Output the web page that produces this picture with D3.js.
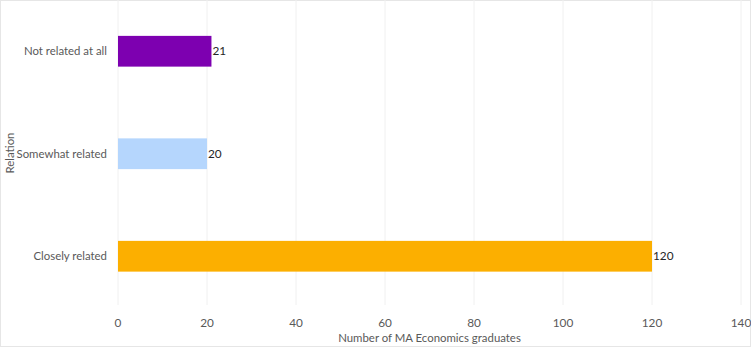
<!DOCTYPE html>
<html><head><meta charset="utf-8">
<script src="https://cdn.jsdelivr.net/npm/d3@7"></script>
<style>body{margin:0;background:#fff}svg{display:block}text{font-family:Lato,"Open Sans",sans-serif}</style>
</head><body><div id="c"></div>
<script>
const categories = ["Not related at all", "Somewhat related", "Closely related"];
const values = [21, 20, 120];
const colors = ["#7d00b0", "#b5d6fd", "#fcaf00"];
const xTicks = [0, 20, 40, 60, 80, 100, 120, 140];
const xTitle = "Number of MA Economics graduates";
const yTitle = "Relation";

const W = 751, H = 347, FS = 11.4;
const svg = d3.select("#c").append("svg").attr("width", W).attr("height", H);
svg.append("rect").attr("x",0.5).attr("y",0.5).attr("width",W-1).attr("height",H-1)
  .attr("fill","#fff").attr("stroke","#e6e6e6");
const x = d3.scaleLinear().domain([0,140]).range([118,741]);
const y = d3.scaleBand().domain(categories).range([0,307.5]).paddingInner(0.7).paddingOuter(0.35);

svg.append("g").selectAll("line").data(xTicks).join("line")
  .attr("x1", d=>x(d)).attr("x2", d=>x(d)).attr("y1",0).attr("y2",305)
  .attr("stroke","#f0f0f0").attr("stroke-width",1);

svg.append("g").selectAll("rect").data(categories).join("rect")
  .attr("x", x(0)).attr("y", d=>y(d))
  .attr("width", (d,i)=>x(values[i])-x(0)).attr("height", y.bandwidth())
  .attr("fill", (d,i)=>colors[i]);

svg.append("g").selectAll("text").data(categories).join("text")
  .attr("x", (d,i)=>x(values[i])+1).attr("y", d=>y(d)+y.bandwidth()/2)
  .attr("dy","0.35em").attr("font-size",FS+0.4).attr("fill","#262626")
  .text((d,i)=>values[i]);

svg.append("g").selectAll("text").data(categories).join("text")
  .attr("x", 107).attr("y", d=>y(d)+y.bandwidth()/2).attr("dy","0.35em")
  .attr("text-anchor","end").attr("font-size",FS).attr("fill","#595959").text(d=>d);

svg.append("g").selectAll("text").data(xTicks).join("text")
  .attr("x", d=>x(d)).attr("y",323).attr("dy","0.35em")
  .attr("text-anchor","middle").attr("font-size",FS+0.4).attr("fill","#595959").text(d=>d);

svg.append("text").attr("x",(x(0)+x(140))/2).attr("y",338).attr("dy","0.35em")
  .attr("text-anchor","middle").attr("font-size",FS).attr("fill","#595959").text(xTitle);
svg.append("text").attr("transform","translate(10,153) rotate(-90)").attr("dy","0.35em")
  .attr("text-anchor","middle").attr("font-size",FS).attr("fill","#595959").text(yTitle);
</script></body></html>
